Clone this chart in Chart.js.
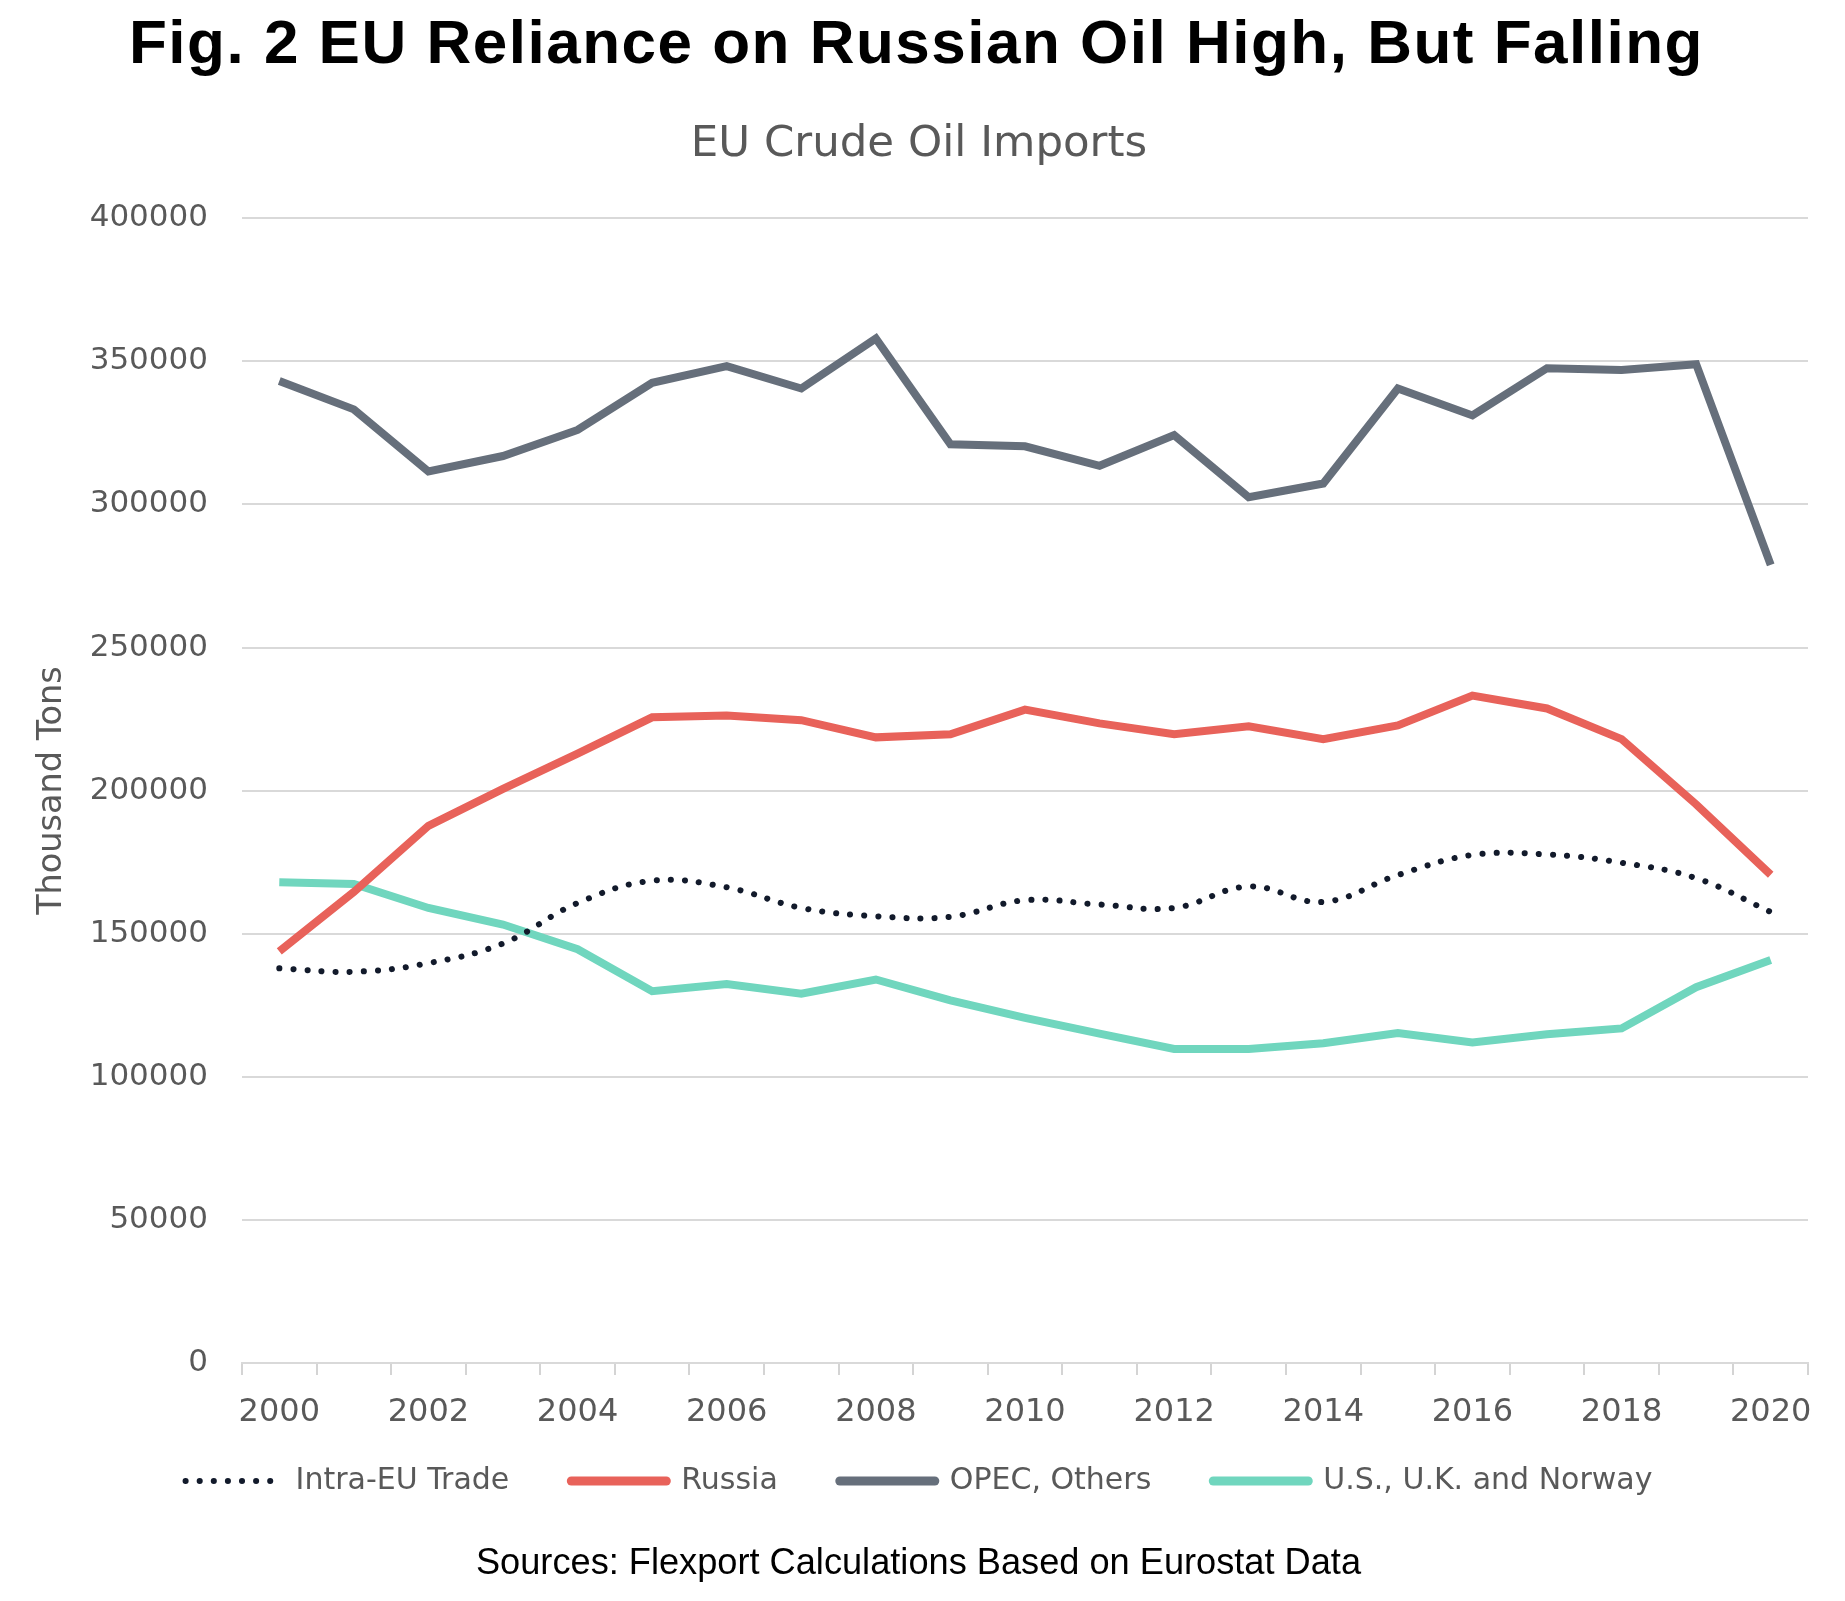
<!DOCTYPE html>
<html>
<head>
<meta charset="utf-8">
<script src="https://cdn.jsdelivr.net/npm/chart.js@4"></script>
<style>
  html, body { margin: 0; padding: 0; background: #ffffff; }
  #wrap { position: relative; width: 1845px; height: 1601px; overflow: hidden; background: #fff; }
  #mainTitle { position: absolute; left: -6px; width: 1845px; top: 11px; text-align: center;
    font-family: "Liberation Sans", Arial, sans-serif; font-weight: bold; font-size: 62px;
    line-height: 1; letter-spacing: 1.5px; color: #000; }
  #source { position: absolute; left: -4px; width: 1845px; top: 1544px; text-align: center;
    font-family: "Liberation Sans", Arial, sans-serif; font-size: 36.2px; line-height: 1; color: #000; }
  canvas { position: absolute; left: 0; top: 0; }
</style>
</head>
<body>
<div id="wrap">
  <canvas id="c" width="1845" height="1601" style="width:1845px;height:1601px"></canvas>
  <div id="mainTitle">Fig. 2 EU Reliance on Russian Oil High, But Falling</div>
  <div id="source">Sources: Flexport Calculations Based on Eurostat Data</div>
</div>
<script>
// ---- data (thousand tons) ----
const years = ['2000','2001','2002','2003','2004','2005','2006','2007','2008','2009','2010',
               '2011','2012','2013','2014','2015','2016','2017','2018','2019','2020'];
const intraEU = [137900,136700,139700,146600,160700,168500,166200,159000,156100,155900,161700,
                 160200,159000,166500,161100,170500,177500,177700,174800,169400,157600];
const russia = [143800,164600,187700,200600,212900,225600,226200,224600,218600,219700,228300,
                223500,219700,222500,218000,222800,233200,228700,218000,195200,170600];
const opecOthers = [343100,333200,311500,316900,326000,342500,348300,340500,358000,321000,320300,
                    313500,324200,302500,307300,340500,331100,347600,347000,349000,278900];
const usUkNorway = [168000,167400,159000,153200,144600,129900,132400,129000,134000,126700,120600,
                    115100,109700,109700,111700,115300,112000,114900,116900,131300,140800];
const seriesNames = ['Intra-EU Trade', 'Russia', 'OPEC, Others', 'U.S., U.K. and Norway'];
const chartSubtitle = 'EU Crude Oil Imports';
const yAxisTitle = 'Thousand Tons';
const yMin = 0, yMax = 400000, yStep = 50000;

const tickGray = '#595959';

// keep the x-axis box short (so the legend sits close) without clipping its labels
const unclipX = {
  id: 'unclipX',
  afterLayout(chart) {
    const s = chart.scales.x;
    s.bottom = s.top + 90;
    s.height = 90;
  }
};

new Chart(document.getElementById('c'), {
  type: 'line',
  data: {
    labels: years,
    datasets: [
      { label: seriesNames[0], data: intraEU, borderColor: '#121a2b', backgroundColor: '#121a2b',
        borderWidth: 6, borderDash: [0.1, 14], borderCapStyle: 'round', tension: 0.4,
        pointRadius: 0, pointHoverRadius: 0, pointStyle: 'line', fill: false },
      { label: seriesNames[1], data: russia, borderColor: '#e8625a', backgroundColor: '#e8625a',
        borderWidth: 8, tension: 0, pointRadius: 0, pointStyle: 'line', borderJoinStyle: 'miter', fill: false },
      { label: seriesNames[2], data: opecOthers, borderColor: '#666f7b', backgroundColor: '#666f7b',
        borderWidth: 8, tension: 0, pointRadius: 0, pointStyle: 'line', borderJoinStyle: 'miter', fill: false },
      { label: seriesNames[3], data: usUkNorway, borderColor: '#70d6be', backgroundColor: '#70d6be',
        borderWidth: 8, tension: 0, pointRadius: 0, pointStyle: 'line', borderJoinStyle: 'miter', fill: false }
    ]
  },
  plugins: [unclipX],
  options: {
    responsive: false,
    animation: false,
    devicePixelRatio: 1,
    layout: { padding: { left: 30, right: 37, top: 0, bottom: 95 } },
    plugins: {
      title: {
        display: true, text: chartSubtitle, color: tickGray,
        font: { family: 'DejaVu Sans', size: 43.5, weight: 'normal', lineHeight: 1.2 },
        padding: { top: 119, bottom: 47 }
      },
      legend: {
        position: 'bottom',
        labels: {
          usePointStyle: true, pointStyleWidth: 95, padding: 62, color: tickGray,
          font: { family: 'DejaVu Sans', size: 30 },
          generateLabels: (chart) => {
            const items = Chart.defaults.plugins.legend.labels.generateLabels(chart);
            items.forEach((it) => {
              const ds = chart.data.datasets[it.datasetIndex];
              it.pointStyle = 'line';
              it.strokeStyle = ds.borderColor;
              it.fillStyle = ds.borderColor;
              it.fontColor = tickGray;
              if (ds.borderDash) {
                it.lineDash = ds.borderDash;
                it.lineCap = 'round';
                it.lineWidth = 6;
              } else {
                it.lineDash = [];
                it.lineCap = 'round';
                it.lineWidth = 9;
              }
            });
            return items;
          }
        }
      },
      tooltip: { enabled: false }
    },
    scales: {
      x: {
        offset: true,
        afterFit: (s) => { s.height = 41; },
        grid: { offset: true, drawOnChartArea: false, drawTicks: true, tickLength: 12,
                color: '#d4d4d4', lineWidth: 2 },
        border: { display: true, color: '#d9d9d9', width: 2 },
        ticks: {
          autoSkip: false, maxRotation: 0, minRotation: 0, padding: 18, color: tickGray,
          font: { family: 'DejaVu Sans', size: 32 },
          callback: function(v, i) { return i % 2 === 0 ? years[i] : ''; }
        }
      },
      y: {
        min: yMin, max: yMax,
        afterFit: (s) => { s.width = 212; },
        grid: { color: '#d9d9d9', lineWidth: 2, drawTicks: false },
        border: { display: false },
        title: { display: true, text: yAxisTitle, color: tickGray,
                 font: { family: 'DejaVu Sans', size: 33.5 }, padding: { top: 2, bottom: 4 } },
        ticks: {
          stepSize: yStep, padding: 34, color: tickGray,
          font: { family: 'DejaVu Sans', size: 31 },
          callback: (v) => String(v)
        }
      }
    }
  }
});
</script>
</body>
</html>
